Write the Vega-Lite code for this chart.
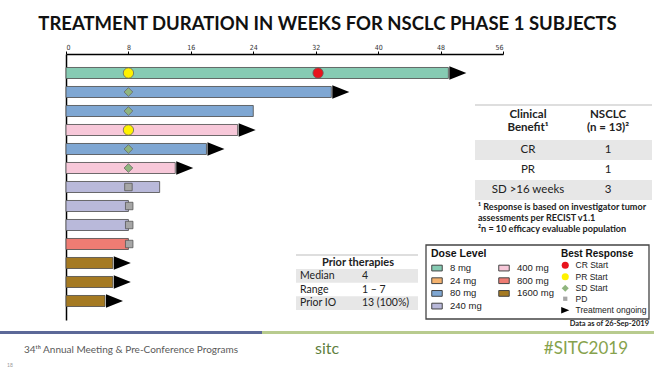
{
  "$schema": "https://vega.github.io/schema/vega-lite/v6.json",
  "width": 437,
  "height": 266,
  "autosize": "none",
  "padding": {"left": 66, "top": 54, "right": 151, "bottom": 49},
  "background": "white",
  "config": {"view": {"stroke": null}, "font": "Lato"},
  "title": {"text": "TREATMENT DURATION IN WEEKS FOR NSCLC PHASE 1 SUBJECTS", "font": "Lato", "fontSize": 18.5, "fontWeight": "bold", "color": "#111111", "anchor": "middle", "dx": 43, "offset": 10},
  "datasets": {
    "bars": [
      {"id": 1, "dose": "8 mg", "weeks": 49, "ongoing": true},
      {"id": 2, "dose": "80 mg", "weeks": 34, "ongoing": true},
      {"id": 3, "dose": "80 mg", "weeks": 24, "ongoing": false},
      {"id": 4, "dose": "400 mg", "weeks": 22, "ongoing": true},
      {"id": 5, "dose": "80 mg", "weeks": 18, "ongoing": true},
      {"id": 6, "dose": "400 mg", "weeks": 14, "ongoing": true},
      {"id": 7, "dose": "240 mg", "weeks": 12, "ongoing": false},
      {"id": 8, "dose": "240 mg", "weeks": 8, "ongoing": false},
      {"id": 9, "dose": "240 mg", "weeks": 8, "ongoing": false},
      {"id": 10, "dose": "800 mg", "weeks": 8, "ongoing": false},
      {"id": 11, "dose": "1600 mg", "weeks": 6, "ongoing": true},
      {"id": 12, "dose": "1600 mg", "weeks": 6, "ongoing": true},
      {"id": 13, "dose": "1600 mg", "weeks": 5, "ongoing": true}
    ],
    "events": [
      {"id": 1, "response": "PR Start", "week": 8},
      {"id": 1, "response": "CR Start", "week": 32.3},
      {"id": 2, "response": "SD Start", "week": 8},
      {"id": 3, "response": "SD Start", "week": 8},
      {"id": 4, "response": "PR Start", "week": 8},
      {"id": 5, "response": "SD Start", "week": 8},
      {"id": 6, "response": "SD Start", "week": 8},
      {"id": 7, "response": "PD", "week": 8},
      {"id": 8, "response": "PD", "week": 8.1},
      {"id": 9, "response": "PD", "week": 8.1},
      {"id": 10, "response": "PD", "week": 8.1},
      {"id": 1, "response": "Treatment ongoing", "week": 49},
      {"id": 2, "response": "Treatment ongoing", "week": 34},
      {"id": 4, "response": "Treatment ongoing", "week": 22},
      {"id": 5, "response": "Treatment ongoing", "week": 18},
      {"id": 6, "response": "Treatment ongoing", "week": 14},
      {"id": 11, "response": "Treatment ongoing", "week": 6},
      {"id": 12, "response": "Treatment ongoing", "week": 6},
      {"id": 13, "response": "Treatment ongoing", "week": 5}
    ]
  },
  "layer": [
    {
      "encoding": {
        "y": {"field": "id", "type": "ordinal", "scale": {"paddingInner": 0.42, "paddingOuter": 0.71}, "axis": {"title": null, "labels": false, "ticks": false, "domainColor": "#000000", "domainWidth": 1.5}},
        "x": {"type": "quantitative", "scale": {"domain": [0, 56], "nice": false}, "axis": {"orient": "top", "title": null, "values": [0, 8, 16, 24, 32, 40, 48, 56], "grid": false, "labelFont": "Liberation Sans Narrow, DejaVu Sans Condensed, sans-serif", "labelFontSize": 7, "labelColor": "#333333", "labelPadding": 1, "tickSize": 3, "tickColor": "#000000", "domainColor": "#000000", "domainWidth": 1.5}}
      },
      "layer": [
        {
          "data": {"name": "bars"},
          "mark": {"type": "bar", "stroke": "#4a4a4a", "strokeWidth": 0.8},
          "encoding": {
            "x": {"field": "weeks", "type": "quantitative"},
            "color": {"field": "dose", "type": "nominal",
              "scale": {"domain": ["8 mg", "24 mg", "80 mg", "240 mg", "400 mg", "800 mg", "1600 mg"], "range": ["#86cbb3", "#f4b26e", "#7fa7d3", "#b9b9da", "#f7c8d9", "#ef7c73", "#a57a22"]},
              "legend": {"title": "Dose Level", "orient": "none", "legendX": 360, "legendY": 190, "columns": 2, "symbolType": "M-1,-0.55H1V0.55H-1Z", "symbolSize": 110, "symbolStrokeColor": "#444444", "symbolStrokeWidth": 1, "symbolOpacity": 1, "labelFont": "Liberation Sans", "labelFontSize": 9.5, "labelColor": "#222222", "titleFont": "Liberation Sans", "titleFontSize": 10.5, "titleFontWeight": "bold", "titleColor": "#111111", "titlePadding": 2.5, "rowPadding": 1.7, "columnPadding": 14, "labelOffset": 7, "padding": 5}}
          }
        },
        {
          "data": {"name": "events"},
          "transform": [{"filter": "datum.response == 'CR Start' || datum.response == 'PR Start'"}],
          "mark": {"type": "point", "filled": true, "size": 107, "stroke": "#666666", "strokeWidth": 0.8, "opacity": 1},
          "encoding": {
            "x": {"field": "week", "type": "quantitative"},
            "fill": {"field": "response", "type": "nominal", "scale": {"domain": ["CR Start", "PR Start", "SD Start", "PD", "Treatment ongoing"], "range": ["#e8141c", "#fff200", "#8fb57e", "#a6a6a6", "#000000"]},
              "legend": {"title": "Best Response", "orient": "none", "legendX": 495, "legendY": 195, "symbolSize": 50, "symbolStrokeColor": "#555555", "symbolStrokeWidth": 0.6, "labelFont": "Liberation Sans", "labelFontSize": 8.5, "labelColor": "#222222", "titleFont": "Liberation Sans", "titleFontSize": 10, "titleFontWeight": "bold", "titleColor": "#111111", "rowPadding": 1.5, "labelOffset": 6, "titlePadding": 2, "padding": 0}},
            "shape": {"field": "response", "type": "nominal", "scale": {"domain": ["CR Start", "PR Start", "SD Start", "PD", "Treatment ongoing"], "range": ["circle", "circle", "diamond", "M-0.6,-0.6H0.6V0.6H-0.6Z", "M-1.15,-0.9L1.15,0L-1.15,0.9Z"]},
              "legend": {"title": "Best Response", "orient": "none", "legendX": 495, "legendY": 195, "symbolSize": 50, "symbolStrokeColor": "#555555", "symbolStrokeWidth": 0.6, "labelFont": "Liberation Sans", "labelFontSize": 8.5, "labelColor": "#222222", "titleFont": "Liberation Sans", "titleFontSize": 10, "titleFontWeight": "bold", "titleColor": "#111111", "rowPadding": 1.5, "labelOffset": 6, "titlePadding": 2, "padding": 0}}
          }
        },
        {
          "data": {"name": "events"},
          "transform": [{"filter": "datum.response == 'SD Start'"}],
          "mark": {"type": "point", "filled": true, "size": 76, "stroke": "#666666", "strokeWidth": 0.8, "opacity": 1},
          "encoding": {
            "x": {"field": "week", "type": "quantitative"},
            "fill": {"field": "response", "type": "nominal"},
            "shape": {"field": "response", "type": "nominal"}
          }
        },
        {
          "data": {"name": "events"},
          "transform": [{"filter": "datum.response == 'PD'"}],
          "mark": {"type": "point", "filled": true, "size": 156, "stroke": "#555555", "strokeWidth": 0.8, "opacity": 1},
          "encoding": {
            "x": {"field": "week", "type": "quantitative"},
            "fill": {"field": "response", "type": "nominal"},
            "shape": {"field": "response", "type": "nominal"}
          }
        },
        {
          "data": {"name": "events"},
          "transform": [{"filter": "datum.response == 'Treatment ongoing'"}],
          "mark": {"type": "point", "filled": true, "size": 218, "xOffset": 9.5, "opacity": 1},
          "encoding": {
            "x": {"field": "week", "type": "quantitative"},
            "fill": {"field": "response", "type": "nominal"},
            "shape": {"field": "response", "type": "nominal"}
          }
        }
      ]
    },
    {
      "data": {"values": [{"panel": "legend box"}]},
      "mark": {"type": "rect", "fill": null, "stroke": "#444444", "strokeWidth": 1.3},
      "encoding": {
        "x": {"datum": 0, "type": "quantitative", "scale": {"domain": [0, 1], "range": [360, 583]}, "axis": null},
        "x2": {"datum": 1},
        "y": {"datum": 0, "type": "quantitative", "scale": {"domain": [0, 1], "range": [191, 265]}, "axis": null},
        "y2": {"datum": 1}
      }
    },
    {
      "data": {"values": [{"table": "Clinical Benefit"}]},
      "mark": {"type": "rule", "stroke": "#bdbdbd", "strokeWidth": 1},
      "encoding": {
        "x": {"datum": 0, "type": "quantitative", "scale": {"domain": [0, 1], "range": [409, 586]}, "axis": null},
        "x2": {"datum": 1},
        "y": {"field": "table", "type": "nominal", "scale": {"type": "point", "range": [51, 51], "padding": 0}, "axis": null}
      }
    },
    {
      "data": {"values": [
        {"col": "Clinical Benefit", "line": 1, "label": "Clinical"},
        {"col": "Clinical Benefit", "line": 2, "label": "Benefit¹"},
        {"col": "NSCLC", "line": 1, "label": "NSCLC"},
        {"col": "NSCLC", "line": 2, "label": "(n = 13)²"}
      ]},
      "mark": {"type": "text", "font": "Lato", "fontSize": 11.5, "fontWeight": "bold", "color": "#222222", "align": "center", "baseline": "middle"},
      "encoding": {
        "x": {"field": "col", "type": "nominal", "scale": {"type": "point", "domain": ["Clinical Benefit", "NSCLC"], "range": [462, 542], "padding": 0}, "axis": null},
        "y": {"field": "line", "type": "ordinal", "scale": {"type": "point", "domain": [1, 2], "range": [61, 74], "padding": 0}, "axis": null},
        "text": {"field": "label"}
      }
    },
    {
      "data": {"values": [
        {"benefit": "CR", "n": 1},
        {"benefit": "PR", "n": 1},
        {"benefit": "SD >16 weeks", "n": 3}
      ]},
      "encoding": {
        "y": {"field": "benefit", "type": "nominal", "scale": {"type": "band", "domain": ["CR", "PR", "SD >16 weeks"], "range": [86, 146], "paddingInner": 0, "paddingOuter": 0}, "axis": null}
      },
      "layer": [
        {
          "transform": [{"filter": "datum.benefit != 'PR'"}],
          "mark": {"type": "rect", "fill": "#e7e7e7"},
          "encoding": {
            "x": {"datum": 0, "type": "quantitative", "scale": {"domain": [0, 1], "range": [409, 586]}, "axis": null},
            "x2": {"datum": 1}
          }
        },
        {
          "mark": {"type": "text", "font": "Lato", "fontSize": 11.5, "color": "#222222", "align": "center", "baseline": "middle"},
          "encoding": {
            "x": {"datum": "Clinical Benefit", "type": "nominal", "scale": {"type": "point", "domain": ["Clinical Benefit", "NSCLC"], "range": [462, 542], "padding": 0}, "axis": null},
            "text": {"field": "benefit"}
          }
        },
        {
          "mark": {"type": "text", "font": "Lato", "fontSize": 11.5, "color": "#222222", "align": "center", "baseline": "middle"},
          "encoding": {
            "x": {"datum": "NSCLC", "type": "nominal", "scale": {"type": "point", "domain": ["Clinical Benefit", "NSCLC"], "range": [462, 542], "padding": 0}, "axis": null},
            "text": {"field": "n"}
          }
        }
      ],
      "resolve": {"scale": {"x": "independent"}}
    },
    {
      "data": {"values": [
        {"line": 1, "note": "¹ Response is based on investigator tumor"},
        {"line": 2, "note": "assessments per RECIST v1.1"},
        {"line": 3, "note": "²n = 10 efficacy evaluable population"}
      ]},
      "mark": {"type": "text", "font": "Lato", "fontSize": 9.1, "fontWeight": "bold", "color": "#222222", "align": "left", "baseline": "middle"},
      "encoding": {
        "x": {"datum": "footnotes", "type": "nominal", "scale": {"type": "point", "range": [412, 412], "padding": 0}, "axis": null},
        "y": {"field": "line", "type": "ordinal", "scale": {"type": "point", "domain": [1, 2, 3], "range": [153, 175], "padding": 0}, "axis": null},
        "text": {"field": "note"}
      }
    },
    {
      "data": {"values": [{"table": "Prior therapies"}]},
      "mark": {"type": "rule", "stroke": "#bdbdbd", "strokeWidth": 1},
      "encoding": {
        "x": {"datum": 0, "type": "quantitative", "scale": {"domain": [0, 1], "range": [230, 352]}, "axis": null},
        "x2": {"datum": 1},
        "y": {"field": "table", "type": "nominal", "scale": {"type": "point", "range": [201, 201], "padding": 0}, "axis": null}
      }
    },
    {
      "data": {"values": [{"table": "Prior therapies"}]},
      "mark": {"type": "text", "font": "Lato", "fontSize": 11, "fontWeight": "bold", "color": "#222222", "align": "center", "baseline": "middle"},
      "encoding": {
        "x": {"field": "table", "type": "nominal", "scale": {"type": "point", "range": [292, 292], "padding": 0}, "axis": null},
        "y": {"field": "table", "type": "nominal", "scale": {"type": "point", "range": [209, 209], "padding": 0}, "axis": null},
        "text": {"field": "table"}
      }
    },
    {
      "data": {"values": [
        {"item": "Median", "value": "4"},
        {"item": "Range", "value": "1 – 7"},
        {"item": "Prior IO", "value": "13 (100%)"}
      ]},
      "encoding": {
        "y": {"field": "item", "type": "nominal", "scale": {"type": "band", "domain": ["Median", "Range", "Prior IO"], "range": [215, 256], "paddingInner": 0, "paddingOuter": 0}, "axis": null}
      },
      "layer": [
        {
          "transform": [{"filter": "datum.item != 'Range'"}],
          "mark": {"type": "rect", "fill": "#e7e7e7"},
          "encoding": {
            "x": {"datum": 0, "type": "quantitative", "scale": {"domain": [0, 1], "range": [230, 352]}, "axis": null},
            "x2": {"datum": 1}
          }
        },
        {
          "mark": {"type": "text", "font": "Lato", "fontSize": 10.5, "color": "#222222", "align": "left", "baseline": "middle"},
          "encoding": {
            "x": {"datum": "item", "type": "nominal", "scale": {"type": "point", "range": [234, 234], "padding": 0}, "axis": null},
            "text": {"field": "item"}
          }
        },
        {
          "mark": {"type": "text", "font": "Lato", "fontSize": 10.5, "color": "#222222", "align": "left", "baseline": "middle"},
          "encoding": {
            "x": {"datum": "value", "type": "nominal", "scale": {"type": "point", "range": [296, 296], "padding": 0}, "axis": null},
            "text": {"field": "value"}
          }
        }
      ],
      "resolve": {"scale": {"x": "independent"}}
    },
    {
      "data": {"values": [{"note": "Data as of 26-Sep-2019"}]},
      "mark": {"type": "text", "font": "Lato", "fontSize": 7.5, "fontWeight": "bold", "color": "#222222", "align": "right", "baseline": "middle"},
      "encoding": {
        "x": {"field": "note", "type": "nominal", "scale": {"type": "point", "range": [583, 583], "padding": 0}, "axis": null},
        "y": {"field": "note", "type": "nominal", "scale": {"type": "point", "range": [270, 270], "padding": 0}, "axis": null},
        "text": {"field": "note"}
      }
    },
    {
      "data": {"values": [{"band": "footer"}]},
      "encoding": {
        "y": {"field": "band", "type": "nominal", "scale": {"type": "point", "range": [278.5, 278.5], "padding": 0}, "axis": null}
      },
      "layer": [
        {
          "mark": {"type": "rule", "stroke": "#5c6898", "strokeWidth": 3},
          "encoding": {
            "x": {"datum": 0, "type": "quantitative", "scale": {"domain": [0, 1], "range": [-66, 196]}, "axis": null},
            "x2": {"datum": 1}
          }
        },
        {
          "mark": {"type": "rule", "stroke": "#b8cb8e", "strokeWidth": 3},
          "encoding": {
            "x": {"datum": 0, "type": "quantitative", "scale": {"domain": [0, 1], "range": [196, 588]}, "axis": null},
            "x2": {"datum": 1}
          }
        }
      ],
      "resolve": {"scale": {"x": "independent"}}
    },
    {
      "data": {"values": [{"text": "34ᵗʰ Annual Meeting & Pre-Conference Programs"}]},
      "mark": {"type": "text", "font": "Lato", "fontSize": 10, "color": "#595959", "align": "left", "baseline": "middle"},
      "encoding": {
        "x": {"field": "text", "type": "nominal", "scale": {"type": "point", "range": [-42, -42], "padding": 0}, "axis": null},
        "y": {"field": "text", "type": "nominal", "scale": {"type": "point", "range": [296, 296], "padding": 0}, "axis": null},
        "text": {"field": "text"}
      }
    },
    {
      "data": {"values": [{"text": "sitc"}]},
      "mark": {"type": "text", "font": "Lato", "fontSize": 16, "color": "#5f7f3f", "align": "center", "baseline": "middle"},
      "encoding": {
        "x": {"field": "text", "type": "nominal", "scale": {"type": "point", "range": [261, 261], "padding": 0}, "axis": null},
        "y": {"field": "text", "type": "nominal", "scale": {"type": "point", "range": [295, 295], "padding": 0}, "axis": null},
        "text": {"field": "text"}
      }
    },
    {
      "data": {"values": [{"text": "#SITC2019"}]},
      "mark": {"type": "text", "font": "Lato", "fontSize": 17, "color": "#86a24c", "align": "right", "baseline": "middle"},
      "encoding": {
        "x": {"field": "text", "type": "nominal", "scale": {"type": "point", "range": [562, 562], "padding": 0}, "axis": null},
        "y": {"field": "text", "type": "nominal", "scale": {"type": "point", "range": [295, 295], "padding": 0}, "axis": null},
        "text": {"field": "text"}
      }
    },
    {
      "data": {"values": [{"text": "18"}]},
      "mark": {"type": "text", "font": "Lato", "fontSize": 5, "color": "#999999", "align": "left", "baseline": "middle"},
      "encoding": {
        "x": {"field": "text", "type": "nominal", "scale": {"type": "point", "range": [-59, -59], "padding": 0}, "axis": null},
        "y": {"field": "text", "type": "nominal", "scale": {"type": "point", "range": [311, 311], "padding": 0}, "axis": null},
        "text": {"field": "text"}
      }
    }
  ],
  "resolve": {"scale": {"x": "independent", "y": "independent"}}
}
